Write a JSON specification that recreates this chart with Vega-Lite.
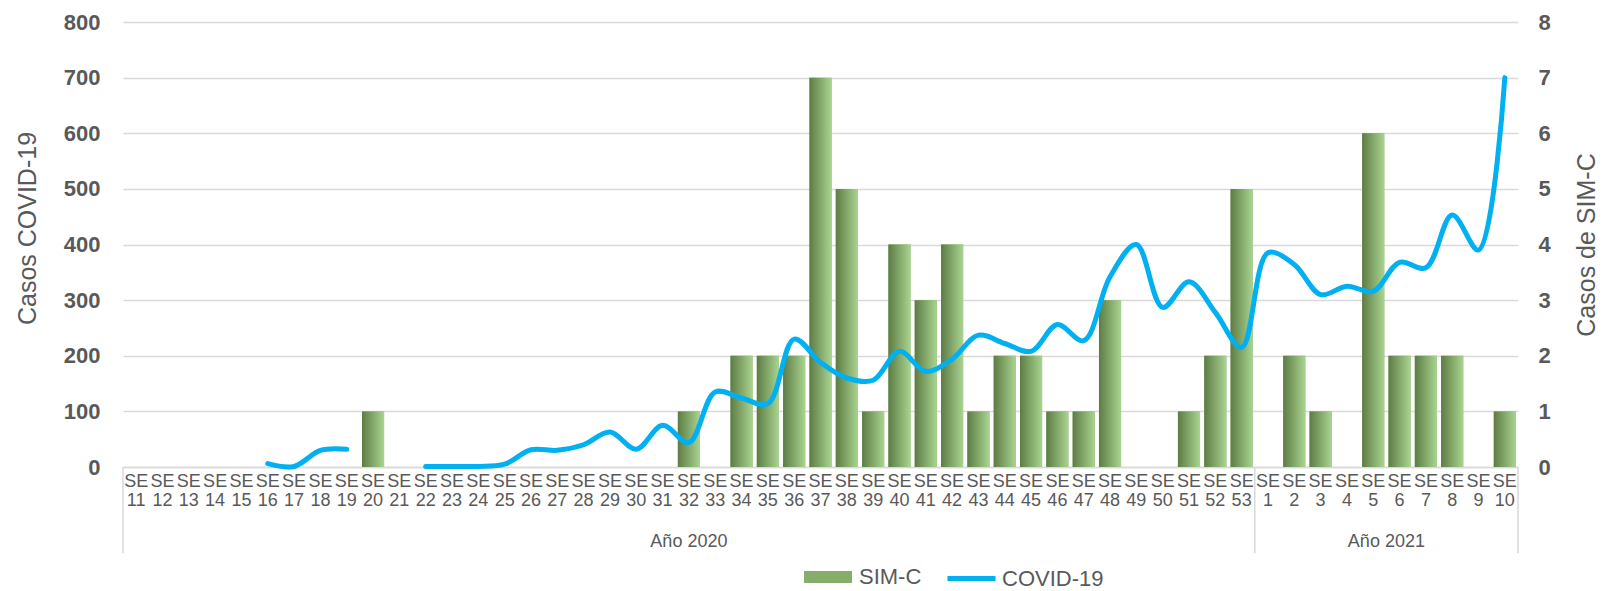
{
  "$schema": "https://vega.github.io/schema/vega-lite/v6.json",
  "width": 1395,
  "height": 445,
  "autosize": {"type": "none"},
  "padding": {"left": 123, "top": 22, "right": 85, "bottom": 124},
  "background": "white",
  "config": {
    "view": {"stroke": null},
    "font": "Liberation Sans",
    "axis": {"labelColor": "#595959", "titleColor": "#595959"}
  },
  "datasets": {
    "main": [
      {"k": "2020-11", "se": "11", "sim": 0, "covid": null},
      {"k": "2020-12", "se": "12", "sim": 0, "covid": null},
      {"k": "2020-13", "se": "13", "sim": 0, "covid": null},
      {"k": "2020-14", "se": "14", "sim": 0, "covid": null},
      {"k": "2020-15", "se": "15", "sim": 0, "covid": null},
      {"k": "2020-16", "se": "16", "sim": 0, "covid": 6},
      {"k": "2020-17", "se": "17", "sim": 0, "covid": 1},
      {"k": "2020-18", "se": "18", "sim": 0, "covid": 30},
      {"k": "2020-19", "se": "19", "sim": 0, "covid": 32},
      {"k": "2020-20", "se": "20", "sim": 1, "covid": null},
      {"k": "2020-21", "se": "21", "sim": 0, "covid": null},
      {"k": "2020-22", "se": "22", "sim": 0, "covid": 1},
      {"k": "2020-23", "se": "23", "sim": 0, "covid": 1},
      {"k": "2020-24", "se": "24", "sim": 0, "covid": 1},
      {"k": "2020-25", "se": "25", "sim": 0, "covid": 5},
      {"k": "2020-26", "se": "26", "sim": 0, "covid": 31},
      {"k": "2020-27", "se": "27", "sim": 0, "covid": 30},
      {"k": "2020-28", "se": "28", "sim": 0, "covid": 40},
      {"k": "2020-29", "se": "29", "sim": 0, "covid": 63},
      {"k": "2020-30", "se": "30", "sim": 0, "covid": 32},
      {"k": "2020-31", "se": "31", "sim": 0, "covid": 75},
      {"k": "2020-32", "se": "32", "sim": 1, "covid": 44},
      {"k": "2020-33", "se": "33", "sim": 0, "covid": 135},
      {"k": "2020-34", "se": "34", "sim": 2, "covid": 124},
      {"k": "2020-35", "se": "35", "sim": 2, "covid": 114},
      {"k": "2020-36", "se": "36", "sim": 2, "covid": 230},
      {"k": "2020-37", "se": "37", "sim": 7, "covid": 188},
      {"k": "2020-38", "se": "38", "sim": 5, "covid": 160},
      {"k": "2020-39", "se": "39", "sim": 1, "covid": 156},
      {"k": "2020-40", "se": "40", "sim": 4, "covid": 208},
      {"k": "2020-41", "se": "41", "sim": 3, "covid": 172},
      {"k": "2020-42", "se": "42", "sim": 4, "covid": 194},
      {"k": "2020-43", "se": "43", "sim": 1, "covid": 237},
      {"k": "2020-44", "se": "44", "sim": 2, "covid": 222},
      {"k": "2020-45", "se": "45", "sim": 2, "covid": 208},
      {"k": "2020-46", "se": "46", "sim": 1, "covid": 256},
      {"k": "2020-47", "se": "47", "sim": 1, "covid": 227},
      {"k": "2020-48", "se": "48", "sim": 3, "covid": 342},
      {"k": "2020-49", "se": "49", "sim": 0, "covid": 400},
      {"k": "2020-50", "se": "50", "sim": 0, "covid": 287},
      {"k": "2020-51", "se": "51", "sim": 1, "covid": 333},
      {"k": "2020-52", "se": "52", "sim": 2, "covid": 278},
      {"k": "2020-53", "se": "53", "sim": 5, "covid": 215},
      {"k": "2021-01", "se": "1", "sim": 0, "covid": 385},
      {"k": "2021-02", "se": "2", "sim": 2, "covid": 364},
      {"k": "2021-03", "se": "3", "sim": 1, "covid": 310},
      {"k": "2021-04", "se": "4", "sim": 0, "covid": 325},
      {"k": "2021-05", "se": "5", "sim": 6, "covid": 316},
      {"k": "2021-06", "se": "6", "sim": 2, "covid": 368},
      {"k": "2021-07", "se": "7", "sim": 2, "covid": 358},
      {"k": "2021-08", "se": "8", "sim": 2, "covid": 453},
      {"k": "2021-09", "se": "9", "sim": 0, "covid": 390},
      {"k": "2021-10", "se": "10", "sim": 1, "covid": 700}
    ]
  },
  "layer": [
    {
      "data": {"name": "main"},
      "encoding": {
        "x": {
          "field": "k", "type": "ordinal",
          "scale": {"paddingInner": 0, "paddingOuter": 0},
          "axis": {
            "title": null, "labelAngle": 0, "labelOverlap": false,
            "labelExpr": "['SE', replace(substring(datum.label, 5), /^0/, '')]",
            "labelFontSize": 18, "labelLineHeight": 19.5, "labelPadding": 5,
            "ticks": false, "domainColor": "#d9d9d9", "domainWidth": 1.5
          }
        },
        "y": {
          "field": "sim", "type": "quantitative",
          "scale": {"domain": [0, 8], "nice": false},
          "axis": {
            "orient": "right", "values": [0,1,2,3,4,5,6,7,8], "grid": false,
            "domain": false, "ticks": false, "labelPadding": 20,
            "labelFontSize": 22, "labelFontWeight": "bold",
            "title": "Casos de SIM-C", "titleFontSize": 25, "titleFontWeight": "normal",
            "titleAngle": 270, "titleBaseline": "top", "titlePadding": 24
          }
        }
      },
      "layer": [
        {
          "mark": {"type": "bar", "width": {"band": 0.84}},
          "encoding": {
            "fill": {
              "datum": "SIM-C",
              "scale": {"range": ["#86ad69"]},
              "legend": {
                "title": null, "orient": "none", "legendX": 680, "legendY": 530,
                "padding": 0,
                "symbolType": "M-1,-0.25L1,-0.25L1,0.25L-1,0.25Z", "symbolSize": 2304,
                "labelFontSize": 22, "labelColor": "#595959", "labelOffset": 6,
                "encode": {"symbols": {
                  "enter": {"fill": {"value": {"gradient": "linear", "x1": 0, "y1": 0, "x2": 1, "y2": 0, "stops": [{"offset": 0, "color": "#5d7c45"}, {"offset": 1, "color": "#a9d490"}]}}},
                  "update": {"fill": {"value": {"gradient": "linear", "x1": 0, "y1": 0, "x2": 1, "y2": 0, "stops": [{"offset": 0, "color": "#5d7c45"}, {"offset": 1, "color": "#a9d490"}]}}}
                }}
              }
            }
          }
        },
        {
          "mark": {
            "type": "bar", "width": {"band": 0.84},
            "fill": {"gradient": "linear", "x1": 0, "y1": 0, "x2": 1, "y2": 0,
              "stops": [{"offset": 0, "color": "#5d7c45"}, {"offset": 1, "color": "#a9d490"}]}
          }
        }
      ]
    },
    {
      "layer": [
        {
          "data": {"name": "main"},
          "mark": {"type": "line", "interpolate": "catmull-rom", "strokeWidth": 5, "strokeCap": "round"},
          "encoding": {
            "x": {"field": "k", "type": "ordinal"},
            "y": {
              "field": "covid", "type": "quantitative",
              "scale": {"domain": [0, 800], "nice": false},
              "axis": {
                "orient": "left", "values": [0,100,200,300,400,500,600,700,800],
                "grid": true, "gridColor": "#d9d9d9", "gridWidth": 1.5,
                "domain": false, "ticks": false, "labelPadding": 23,
                "labelFontSize": 22, "labelFontWeight": "bold",
                "title": "Casos COVID-19", "titleFontSize": 25, "titleFontWeight": "normal",
                "titlePadding": 23, "titleY": 206
              }
            },
            "stroke": {
              "datum": "COVID-19",
              "scale": {"range": ["#00b0f0"]},
              "legend": {
                "title": null, "orient": "none", "legendX": 822, "legendY": 530,
                "padding": 0, "symbolType": "stroke", "symbolSize": 2304,
                "symbolStrokeWidth": 5, "labelLimit": 300,
                "labelFontSize": 22, "labelColor": "#595959", "labelOffset": 4
              }
            }
          }
        },
        {
          "data": {"values": [{"k": "2020-11"}, {"k": "2021-01"}]},
          "mark": {"type": "rule", "color": "#d9d9d9", "strokeWidth": 1.5},
          "encoding": {
            "x": {"field": "k", "type": "ordinal", "bandPosition": 0},
            "y": {"datum": 0, "type": "quantitative"},
            "y2": {"datum": -155}
          }
        },
        {
          "data": {"values": [{"k": "2021-10"}]},
          "mark": {"type": "rule", "color": "#d9d9d9", "strokeWidth": 1.5},
          "encoding": {
            "x": {"field": "k", "type": "ordinal", "bandPosition": 1},
            "y": {"datum": 0, "type": "quantitative"},
            "y2": {"datum": -155}
          }
        },
        {
          "data": {"values": [{"k": "2020-32", "t": "Año 2020"}]},
          "mark": {"type": "text", "fontSize": 18, "color": "#595959", "baseline": "middle"},
          "encoding": {
            "x": {"field": "k", "type": "ordinal", "bandPosition": 0.5},
            "y": {"datum": -135, "type": "quantitative"},
            "text": {"field": "t"}
          }
        },
        {
          "data": {"values": [{"k": "2021-06", "t": "Año 2021"}]},
          "mark": {"type": "text", "fontSize": 18, "color": "#595959", "baseline": "middle"},
          "encoding": {
            "x": {"field": "k", "type": "ordinal", "bandPosition": 0},
            "y": {"datum": -135, "type": "quantitative"},
            "text": {"field": "t"}
          }
        }
      ]
    }
  ],
  "resolve": {"scale": {"y": "independent"}}
}
